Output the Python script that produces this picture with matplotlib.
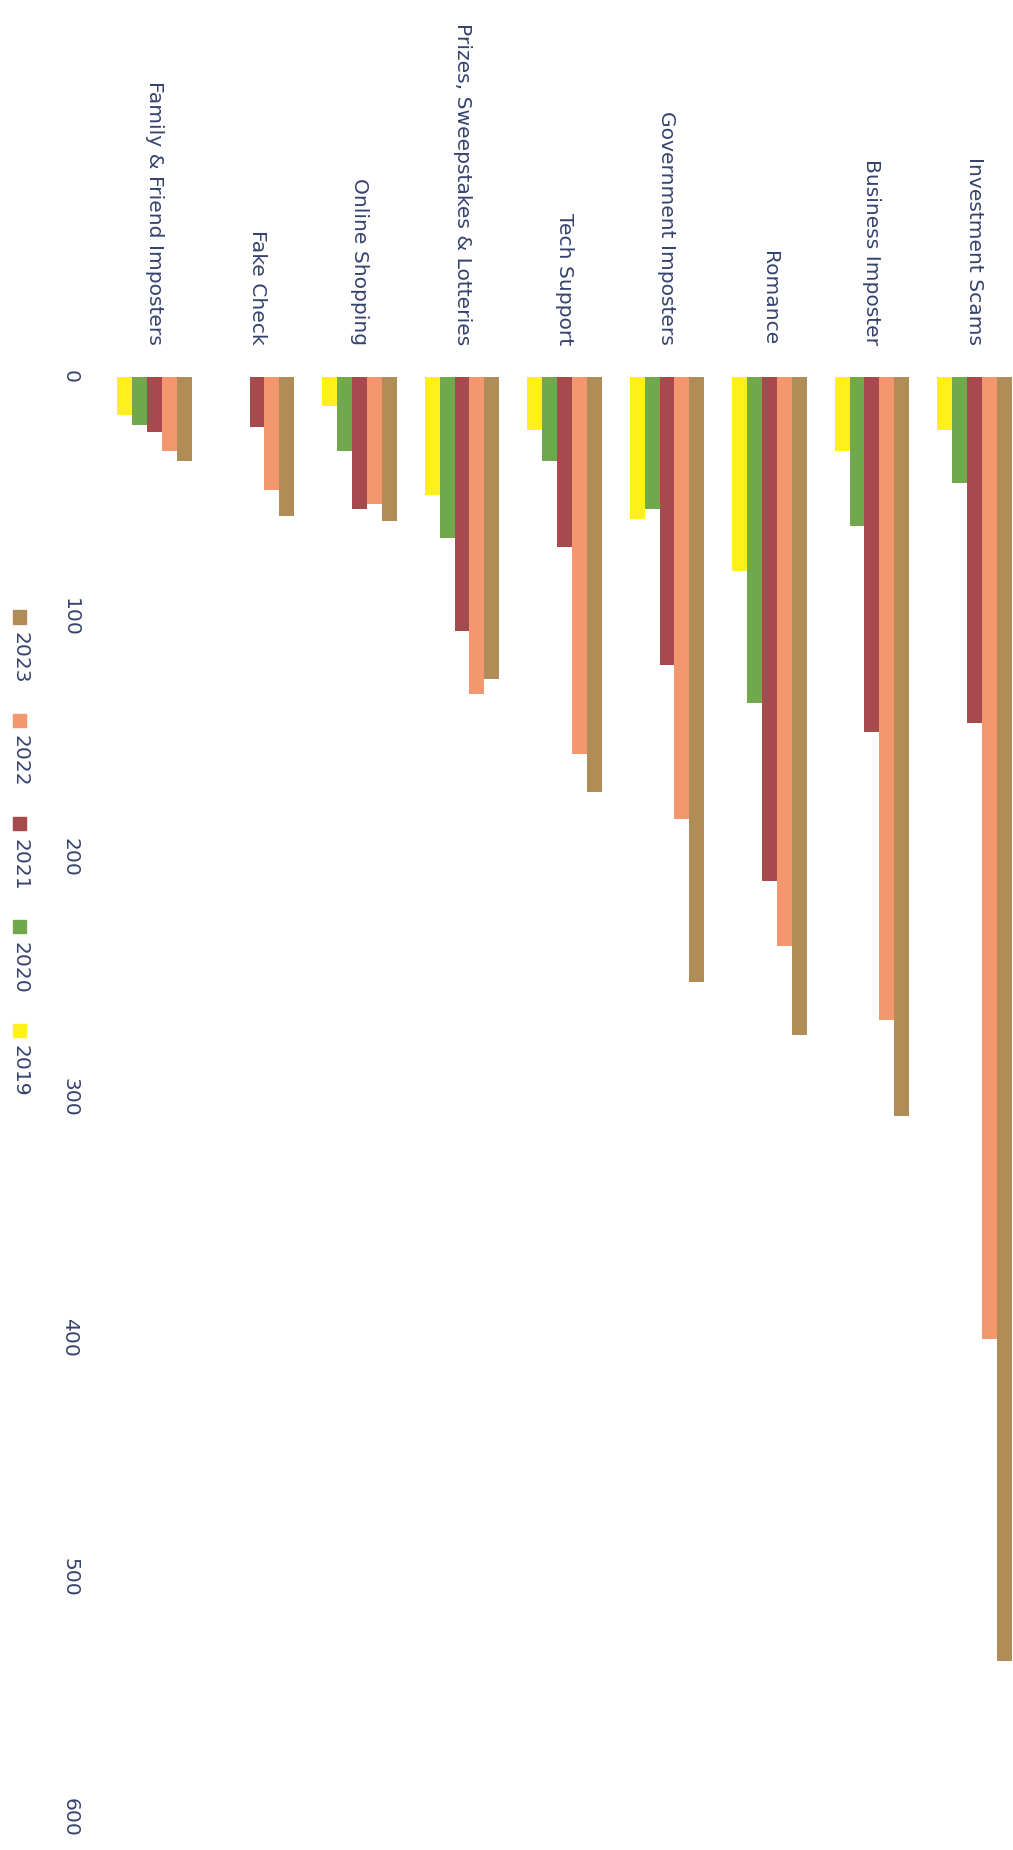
import numpy as np
import matplotlib
matplotlib.use("Agg")
import matplotlib.pyplot as plt
from matplotlib.patches import Rectangle

# data (original order: top category first)
categories = ["Investment Scams", "Business Imposter", "Romance",
              "Government Imposters", "Tech Support",
              "Prizes, Sweepstakes & Lotteries", "Online Shopping",
              "Fake Check", "Family & Friend Imposters"]
years = ["2023", "2022", "2021", "2020", "2019"]
v2023 = [535, 308, 274, 252, 173, 126, 60, 58, 35]
v2022 = [401, 268, 237, 184, 157, 132, 53, 47, 31]
v2021 = [144, 148, 210, 120, 71, 106, 55, 21, 23]
v2020 = [44, 62, 136, 55, 35, 67, 31, 0, 20]
v2019 = [22, 31, 81, 59, 22, 49, 12, 0, 16]
yticks = [0, 100, 200, 300, 400, 500, 600]

series = [v2023, v2022, v2021, v2020, v2019]
colors = ["#B08D57", "#F2976E", "#A64A4D", "#71A84D", "#FFEF1C"]
txtcol = "#35426E"
fs = 14.6

W, H = 1013, 1850
fig = plt.figure(figsize=(W / 100, H / 100), dpi=100)
ax = fig.add_axes([100 / W, 1 - 1817 / H, (1013 - 100) / W, (1817 - 377) / H])

x = np.arange(len(categories))
w = 0.146
for j, (vals, c) in enumerate(zip(series, colors)):
    ax.bar(x + (j - 2) * w, vals, width=w, color=c, label=years[j])

ax.set_xlim(8.532, -0.376)
ax.set_ylim(600, 0)
ax.set_yticks(yticks)
ax.set_yticklabels([str(t) for t in yticks])
ax.set_xticks(x)
ax.set_xticklabels(categories)
ax.xaxis.tick_top()
ax.tick_params(axis="x", length=0, pad=23, labelsize=fs, labelcolor=txtcol)
ax.tick_params(axis="y", length=0, pad=21.6, labelsize=fs, labelcolor=txtcol)
plt.setp(ax.get_xticklabels(), rotation=-90, ha="center", va="bottom")
plt.setp(ax.get_yticklabels(), rotation=-90, ha="center", va="center")
for s in ax.spines.values():
    s.set_visible(False)

# legend, rotated like the rest of the chart
for j, (yr, c) in enumerate(zip(years, colors)):
    yc = 617 + 103.3 * j
    fig.add_artist(Rectangle((13 / W, 1 - (yc + 6.5) / H), 13 / W, 13 / H,
                             transform=fig.transFigure, color=c))
    fig.text(19.5 / W, 1 - (yc + 15) / H, yr, rotation=-90, ha="center",
             va="top", fontsize=fs, color=txtcol)

fig.savefig("out.png", dpi=100)
